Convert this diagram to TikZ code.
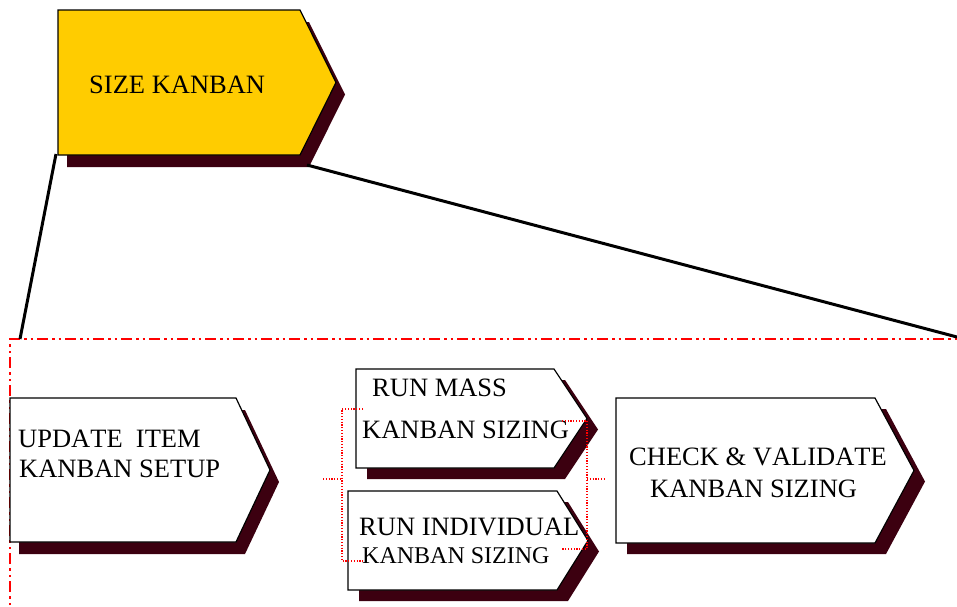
\documentclass[tikz,border=0pt]{standalone}
\usepackage{fontspec}
\setmainfont[Kerning=Off]{Liberation Serif}
\definecolor{kyellow}{HTML}{FFCC00}
\definecolor{kshade}{HTML}{3C0010}
\tikzset{
  x=1pt, y=-1pt,
  kshadow/.style={fill=kshade},
  kbox/.style={draw=black, line width=1.2pt, line join=miter},
  klabel/.style={inner sep=0pt, anchor=base west, font=\fontsize{26.5}{30}\selectfont},
  zoomline/.style={line width=3pt, draw=black},
  redframe/.style={draw=red, line width=2pt, dash pattern=on 11pt off 4pt on 2.5pt off 4pt on 2.5pt off 4pt},
  reddots/.style={draw=red, line width=1.2pt, dash pattern=on 1.2pt off 1.6pt},
}
% arrow-shaped process box with a drop shadow:
% #1 name, #2 left x, #3 top y, #4 x where the top edge ends, #5 tip x, #6 bottom y,
% #7 fill colour, #8 shadow x shift, #9 shadow y shift
\newcommand\kanbanbox[9]{%
  \fill[kshadow, shift={(#8,#9)}] (#2,#3) -- (#4,#3) -- (#5,{(#3+#6)/2}) -- (#4,#6) -- (#2,#6) -- cycle;
  \draw[kbox, fill=#7] (#2,#3) -- (#4,#3) -- (#5,{(#3+#6)/2}) -- (#4,#6) -- (#2,#6) -- cycle;
  \coordinate (#1-nw) at (#2,#3);
  \coordinate (#1-sw) at (#2,#6);
  \coordinate (#1-tip) at (#5,{(#3+#6)/2});
}
\begin{document}
\begin{tikzpicture}
\useasboundingbox (0,0) rectangle (957,606);
\clip (0,0) rectangle (957,606);

% zoom frame round the decomposition
\coordinate (frame-nw) at (10,339);
\draw[redframe] (10,620) -- (frame-nw) -- (970,339);

% top level process
\kanbanbox{sk}{58}{10}{300}{336}{155}{kyellow}{9}{12}
\node[klabel] (sk-text) at (89,93) {SIZE KANBAN};

% lines opening out to the decomposition
\coordinate (sk-a) at (56,154);
\coordinate (sk-b) at (307,165);
\coordinate (zoom-l) at (20,339);
\coordinate (zoom-r) at (957,337);
\draw[zoomline] (sk-a) -- (zoom-l);
\draw[zoomline] (sk-b) -- (zoom-r);

% sub-processes
\kanbanbox{upd}{10}{398}{236}{270}{542}{white}{9}{12}
\node[klabel] (upd-t1) at (18,447) {UPDATE\ \ ITEM};
\node[klabel] (upd-t2) at (19,477) {KANBAN SETUP};

\kanbanbox{mass}{356}{369}{554}{587}{468}{white}{11}{11}
\node[klabel] (mass-t1) at (372,396) {RUN MASS};
\node[klabel] (mass-t2) at (362,438) {KANBAN SIZING};

\kanbanbox{ind}{348}{491}{557}{588}{590}{white}{11}{11}
\node[klabel] (ind-t1) at (359,535) {RUN INDIVIDUAL};
\node[klabel, font=\fontsize{24}{28}\selectfont] (ind-t2) at (362,563) {KANBAN SIZING};

\kanbanbox{chk}{616}{398}{875}{914}{543}{white}{11}{11}
\node[klabel] (chk-t1) at (629,465) {CHECK \& VALIDATE};
\node[klabel] (chk-t2) at (650,497) {KANBAN SIZING};

% dotted branch and merge brackets round the two sizing runs
\coordinate (br-in) at (323,479);
\coordinate (br-l) at (342,479);
\coordinate (br-lt) at (363,409);
\coordinate (br-lb) at (363,561);
\coordinate (br-rt) at (562,421);
\coordinate (br-rb) at (562,549);
\coordinate (br-r) at (587,479);
\coordinate (br-out) at (606,479);
\draw[reddots] (br-in) -- (br-l);
\draw[reddots] (br-lt) -| (br-l) |- (br-lb);
\draw[reddots] (br-rt) -| (br-r) |- (br-rb);
\draw[reddots] (br-r) -- (br-out);
\end{tikzpicture}
\end{document}
